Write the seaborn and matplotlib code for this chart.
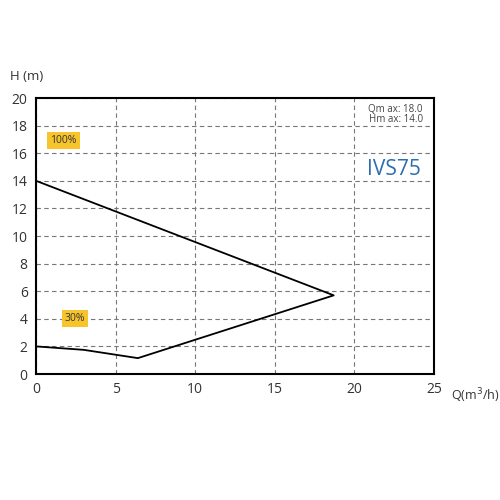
import numpy as np
import pandas as pd
import matplotlib
matplotlib.use("Agg")
import matplotlib.pyplot as plt
import seaborn as sns

# curve points (Q in m3/h, H in m)
q_vals = [0.0, 3.0, 6.4, 18.7, 0.0]
h_vals = [2.0, 1.75, 1.15, 5.7, 14.0]
x_ticks = [0, 5, 10, 15, 20, 25]
y_ticks = [0, 2, 4, 6, 8, 10, 12, 14, 16, 18, 20]
model_name = "IVS75"
info_text = "Qm ax: 18.0\nHm ax: 14.0"

df = pd.DataFrame({"Q": q_vals, "H": h_vals})

sns.set_theme(style="white")
plt.rcParams['font.family'] = ['Open Sans', 'DejaVu Sans']

fig = plt.figure(figsize=(5, 5), dpi=100)
ax = fig.add_axes([0.072, 0.252, 0.796, 0.552])

sns.lineplot(data=df, x="Q", y="H", sort=False, estimator=None, color="black",
             linewidth=1.3, ax=ax, legend=False)

ax.set_xlim(0, 25)
ax.set_ylim(0, 20)
ax.set_xticks(x_ticks)
ax.set_yticks(y_ticks)
ax.grid(True, linestyle=(0, (4, 3)), color="#777777", linewidth=0.8)
for s in ax.spines.values():
    s.set_color("black")
    s.set_linewidth(1.5)
ax.tick_params(axis="both", length=0, labelsize=10, colors="#333333", pad=6)
ax.set_xlabel("")
ax.set_ylabel("")

# axis titles
fig.text(0.02, 0.848, "H (m)", fontsize=9.5, color="#333333", ha="left", va="center")
fig.text(0.902, 0.208, "Q(m$^3$/h)", fontsize=9, color="#333333", ha="left", va="center")

# percentage tags
box = dict(boxstyle="square,pad=0.3", facecolor="#f7c52b", edgecolor="none")
ax.text(0.9, 16.9, "100%", fontsize=7.5, color="#333333", va="center", bbox=box)
ax.text(1.8, 4.0, "30%", fontsize=7.5, color="#333333", va="center", bbox=box)

ax.text(24.3, 19.6, info_text, fontsize=7, color="#444444", ha="right", va="top",
        linespacing=0.9)
ax.text(24.2, 14.8, model_name, fontsize=15, color="#2a6db0", ha="right", va="center")

plt.savefig("out.png", dpi=100)
